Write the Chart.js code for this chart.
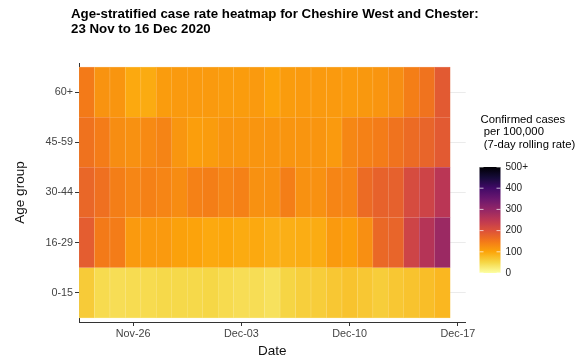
<!DOCTYPE html>
<html>
<head>
<meta charset="utf-8">
<script src="https://cdn.jsdelivr.net/npm/chart.js@4.4.1/dist/chart.umd.min.js"></script>
<style>
html,body{margin:0;padding:0;background:#fff;}
#wrap{width:585px;height:362px;position:relative;}
</style>
</head>
<body>
<div id="wrap"><canvas id="c" width="585" height="362"></canvas></div>
<script>
// ---- data ----
const dates = ['2020-11-23','2020-11-24','2020-11-25','2020-11-26','2020-11-27','2020-11-28','2020-11-29','2020-11-30',
  '2020-12-01','2020-12-02','2020-12-03','2020-12-04','2020-12-05','2020-12-06','2020-12-07','2020-12-08',
  '2020-12-09','2020-12-10','2020-12-11','2020-12-12','2020-12-13','2020-12-14','2020-12-15','2020-12-16'];
const ageGroups = ['0-15','16-29','30-44','45-59','60+'];
const rate_0_15  = [62,45,42,44,45,48,48,48,50,45,42,42,38,52,58,60,66,70,66,60,66,70,75,82];
const rate_16_29 = [185,148,145,112,112,112,105,102,96,98,94,96,90,90,92,93,112,108,125,170,175,225,258,290];
const rate_30_44 = [172,160,143,135,140,136,128,140,143,136,140,122,122,143,122,122,136,136,167,178,180,210,225,252];
const rate_45_59 = [158,145,127,122,130,137,117,108,110,118,117,118,118,118,118,118,112,133,140,145,157,167,175,188];
const rate_60p   = [148,120,118,96,94,110,112,112,112,110,110,112,102,110,112,112,112,112,115,118,126,143,157,188];
const rowValues = [rate_0_15, rate_16_29, rate_30_44, rate_45_59, rate_60p];
const xTickDays = [3,10,17,24];
const xTickLabels = ['Nov-26','Dec-03','Dec-10','Dec-17'];
const legendTicks = [0,100,200,300,400,500];
const legendLabels = ['0','100','200','300','400','500+'];
const scaleMax = 500;

// ---- colour scale (inferno, reversed: low = yellow) ----
const inferno = ['#000004','#160B39','#420A68','#6A176E','#932667','#BC3754','#DD513A','#F37819','#FCA50A','#F6D746','#FCFFA4'];
function hex2rgb(h){return [parseInt(h.slice(1,3),16),parseInt(h.slice(3,5),16),parseInt(h.slice(5,7),16)];}
function infernoAt(t){ // t in [0,1]
  t = Math.max(0, Math.min(1, t));
  const p = t*(inferno.length-1), i = Math.min(Math.floor(p), inferno.length-2), f = p-i;
  const a = hex2rgb(inferno[i]), b = hex2rgb(inferno[i+1]);
  return [0,1,2].map(k => Math.round(a[k]+(b[k]-a[k])*f));
}
function colourFor(v){ const c = infernoAt(1 - Math.min(v, scaleMax)/scaleMax); return `rgb(${c[0]},${c[1]},${c[2]})`; }
function borderFor(v){ const c = infernoAt(1 - Math.min(v, scaleMax)/scaleMax).map(x => Math.round(x + (255-x)*0.35)); return `rgb(${c[0]},${c[1]},${c[2]})`; }

const FONT = "'Liberation Sans', Arial, sans-serif";

const datasets = rowValues.map((vals, r) => ({
  label: ageGroups[r],
  data: vals.map((v, i) => ({x: i, y: [r - 0.5, r + 0.5]})),
  backgroundColor: ctx => colourFor(vals[ctx.dataIndex]),
  borderColor: ctx => borderFor(vals[ctx.dataIndex]),
  borderWidth: 0.5,
  borderSkipped: false,
  grouped: false,
  barPercentage: 1,
  categoryPercentage: 1
}));

const overlay = {
  id: 'overlay',
  afterDraw(chart) {
    const ctx = chart.ctx;
    ctx.save();
    // title
    ctx.fillStyle = '#000';
    ctx.font = `bold 13.3px ${FONT}`;
    ctx.textAlign = 'left';
    ctx.textBaseline = 'alphabetic';
    ctx.fillText('Age-stratified case rate heatmap for Cheshire West and Chester:', 71, 18);
    ctx.fillText('23 Nov to 16 Dec 2020', 71, 32.5);
    // legend title
    ctx.font = `11.3px ${FONT}`;
    ctx.fillText('Confirmed cases', 480.5, 122.5);
    ctx.fillText(' per 100,000', 480.5, 135);
    ctx.fillText(' (7-day rolling rate)', 480.5, 147.5);
    // colour bar
    const bx = 479.5, bw = 21, btop = 167, bbot = 273;
    const g = ctx.createLinearGradient(0, bbot, 0, btop);
    for (let k = 0; k <= 50; k++) { const c = infernoAt(1 - k/50); g.addColorStop(k/50, `rgb(${c[0]},${c[1]},${c[2]})`); }
    ctx.fillStyle = g;
    ctx.fillRect(bx, btop, bw, bbot - btop);
    // ticks + labels
    ctx.font = `10px ${FONT}`;
    ctx.textBaseline = 'middle';
    legendTicks.forEach((v, i) => {
      const y = bbot - v/scaleMax*(bbot - btop);
      ctx.strokeStyle = 'rgba(255,255,255,0.7)';
      ctx.lineWidth = 1;
      ctx.beginPath();
      ctx.moveTo(bx, y); ctx.lineTo(bx + 4, y);
      ctx.moveTo(bx + bw - 4, y); ctx.lineTo(bx + bw, y);
      ctx.stroke();
      ctx.fillStyle = '#222';
      ctx.fillText(legendLabels[i], 505.5, y);
    });
    ctx.restore();
  }
};

new Chart(document.getElementById('c'), {
  type: 'bar',
  data: { datasets },
  plugins: [overlay],
  options: {
    responsive: false,
    animation: false,
    layout: { padding: { left: 0, right: 119.3, top: 63, bottom: 0 } },
    plugins: { legend: { display: false }, tooltip: { enabled: false }, title: { display: false } },
    scales: {
      x: {
        type: 'linear', min: -0.5, max: 24.5, offset: false,
        afterBuildTicks: s => { s.ticks = xTickDays.map(v => ({ value: v })); },
        afterFit: s => { s.height = 40; },
        ticks: { callback: (v, i) => xTickLabels[i], autoSkip: false, maxRotation: 0, padding: 2,
                 color: '#444', font: { family: FONT, size: 10.8 } },
        grid: { offset: false, drawOnChartArea: false, tickLength: 4, tickColor: '#333', tickWidth: 1 },
        border: { display: true, color: '#333', width: 1 },
        title: { display: true, text: 'Date', color: '#111', font: { family: FONT, size: 13.5 }, padding: { top: 0, bottom: 3 } }
      },
      y: {
        type: 'linear', min: -0.58, max: 4.58, offset: false,
        afterBuildTicks: s => { s.ticks = ageGroups.map((g, i) => ({ value: i })); },
        afterFit: s => { s.width = 79; },
        ticks: { callback: (v) => ageGroups[v], autoSkip: false, padding: 2,
                 color: '#444', font: { family: FONT, size: 10.8 } },
        grid: { offset: false, color: '#EBEBEB', lineWidth: 1, tickLength: 4, tickColor: '#333', tickWidth: 1 },
        border: { display: true, color: '#333', width: 1 },
        title: { display: true, text: 'Age group', color: '#111', font: { family: FONT, size: 13.5 }, padding: { top: 12, bottom: 0 } }
      }
    }
  }
});
</script>
</body>
</html>
